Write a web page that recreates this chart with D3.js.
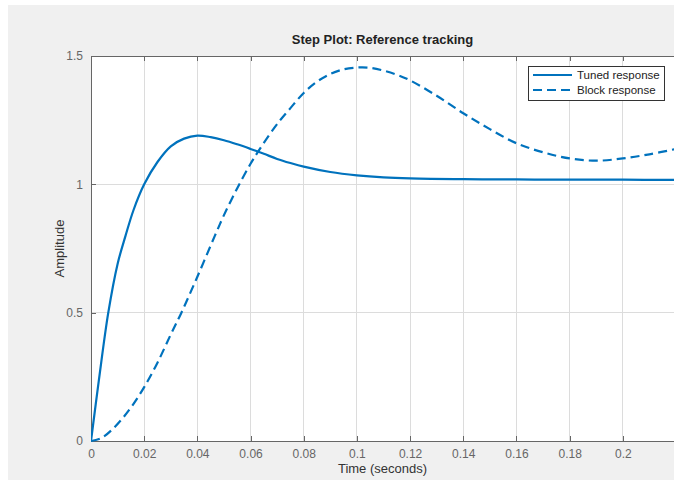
<!DOCTYPE html>
<html lang="en">
<head>
<meta charset="UTF-8">
<script src="https://cdn.jsdelivr.net/npm/d3@7"></script>
<style>
  body { margin: 0; background: #fff; }
  svg { display: block; font-family: "Liberation Sans", Arial, sans-serif; }
</style>
</head>
<body>
<script>
const w = 674;
const h = 481;

// tuned response (solid)
const tunedT = [0, 0.003, 0.0065, 0.01, 0.013, 0.016, 0.02, 0.025, 0.03, 0.035, 0.04, 0.045, 0.05, 0.055, 0.06, 0.065, 0.07, 0.075, 0.08, 0.09, 0.1, 0.11, 0.12, 0.14, 0.16, 0.18, 0.2, 0.22];
const tunedY = [0, 0.24, 0.5, 0.69, 0.8, 0.9, 1.0, 1.087, 1.148, 1.178, 1.19, 1.184, 1.172, 1.156, 1.138, 1.119, 1.099, 1.083, 1.069, 1.048, 1.035, 1.027, 1.023, 1.02, 1.019, 1.018, 1.018, 1.017];

// block response (dashed)
const blockT = [0, 0.004, 0.008, 0.012, 0.016, 0.02, 0.025, 0.03, 0.034, 0.04, 0.0466, 0.05, 0.055, 0.06, 0.063, 0.067, 0.071, 0.075, 0.08, 0.085, 0.09, 0.095, 0.1, 0.105, 0.11, 0.115, 0.12, 0.13, 0.14, 0.15, 0.16, 0.17, 0.18, 0.19, 0.2, 0.21, 0.22];
const blockY = [0, 0.012, 0.045, 0.09, 0.145, 0.21, 0.305, 0.415, 0.5, 0.64, 0.8, 0.88, 0.985, 1.08, 1.13, 1.192, 1.248, 1.297, 1.356, 1.4, 1.43, 1.448, 1.455, 1.454, 1.443, 1.427, 1.405, 1.345, 1.277, 1.215, 1.16, 1.125, 1.101, 1.092, 1.101, 1.117, 1.138];

const xTicks = [0, 0.02, 0.04, 0.06, 0.08, 0.1, 0.12, 0.14, 0.16, 0.18, 0.2];
const yTicks = [0, 0.5, 1, 1.5];
const seriesNames = ["Tuned response", "Block response"];

const pLeft = 91, pTop = 56, pBottom = 441, pRight = 676;
const blue = "#0072bd";

const svg = d3.select("body").append("svg").attr("width", w).attr("height", h);

// figure background
svg.append("rect").attr("x", 8).attr("y", 5).attr("width", w - 8).attr("height", h - 6).attr("fill", "#f0f0f0");

const x = d3.scaleLinear().domain([0, 0.22]).range([pLeft, pRight]);
const y = d3.scaleLinear().domain([0, 1.5]).range([pBottom, pTop]);

svg.append("rect").attr("x", pLeft).attr("y", pTop).attr("width", pRight - pLeft).attr("height", pBottom - pTop).attr("fill", "#fff");

// grid
svg.append("g").selectAll("line").data(xTicks.slice(1)).enter().append("line")
  .attr("x1", d => x(d)).attr("x2", d => x(d)).attr("y1", pTop).attr("y2", pBottom)
  .attr("stroke", "#dcdcdc").attr("stroke-width", 1).attr("shape-rendering", "crispEdges");
svg.append("g").selectAll("line").data(yTicks.slice(1, -1)).enter().append("line")
  .attr("x1", pLeft).attr("x2", pRight).attr("y1", d => y(d)).attr("y2", d => y(d))
  .attr("stroke", "#dcdcdc").attr("stroke-width", 1).attr("shape-rendering", "crispEdges");

// axes
const fmt = d => d === 0 ? "0" : String(d);
const xAxis = svg.append("g").attr("transform", `translate(0,${pBottom})`)
  .call(d3.axisBottom(x).tickValues(xTicks).tickFormat(fmt).tickSizeInner(-5).tickSizeOuter(0).tickPadding(8));
const xTop = svg.append("g").attr("transform", `translate(0,${pTop})`)
  .call(d3.axisTop(x).tickValues(xTicks).tickFormat("").tickSizeInner(-5).tickSizeOuter(0));
const yAxis = svg.append("g").attr("transform", `translate(${pLeft},0)`)
  .call(d3.axisLeft(y).tickValues(yTicks).tickFormat(fmt).tickSizeInner(-5).tickSizeOuter(0).tickPadding(8));

[xAxis, xTop, yAxis].forEach(g => {
  g.select(".domain").attr("stroke", "#666").attr("stroke-width", 1).attr("shape-rendering", "crispEdges");
  g.selectAll(".tick line").attr("stroke", "#666").attr("shape-rendering", "crispEdges");
  g.selectAll("text").attr("fill", "#666").style("font-size", "12px").style("font-family", "Liberation Sans, Arial, sans-serif");
});

// lines
const line = d3.line().x(d => x(d[0])).y(d => y(d[1])).curve(d3.curveCatmullRom.alpha(0.5));
svg.append("clipPath").attr("id", "clip").append("rect")
  .attr("x", pLeft).attr("y", pTop - 2).attr("width", pRight - pLeft).attr("height", pBottom - pTop + 4);

svg.append("path").attr("clip-path", "url(#clip)")
  .datum(tunedT.map((t, i) => [t, tunedY[i]]))
  .attr("d", line).attr("fill", "none").attr("stroke", blue).attr("stroke-width", 2.2);

svg.append("path").attr("clip-path", "url(#clip)")
  .datum(blockT.map((t, i) => [t, blockY[i]]))
  .attr("d", line).attr("fill", "none").attr("stroke", blue).attr("stroke-width", 2.2)
  .attr("stroke-dasharray", "9,5");

// title and labels
svg.append("text").attr("x", (pLeft + 674) / 2).attr("y", 44).attr("text-anchor", "middle")
  .style("font-size", "13px").style("font-weight", "bold").attr("fill", "#222")
  .text("Step Plot: Reference tracking");

svg.append("text").attr("x", (pLeft + 674) / 2).attr("y", 473).attr("text-anchor", "middle")
  .style("font-size", "13px").attr("fill", "#333").text("Time (seconds)");

svg.append("text").attr("transform", `translate(64,${(pTop + pBottom) / 2}) rotate(-90)`)
  .attr("text-anchor", "middle").style("font-size", "13px").attr("fill", "#333").text("Amplitude");

// legend
const lg = svg.append("g").attr("transform", "translate(528,66)");
lg.append("rect").attr("width", 136).attr("height", 34).attr("fill", "#fff")
  .attr("stroke", "#333").attr("stroke-width", 1).attr("shape-rendering", "crispEdges");
seriesNames.forEach((name, i) => {
  const ly = 9 + i * 15;
  lg.append("line").attr("x1", 5).attr("x2", 44).attr("y1", ly).attr("y2", ly)
    .attr("stroke", blue).attr("stroke-width", 2.2)
    .attr("stroke-dasharray", i === 1 ? "9,5" : null);
  lg.append("text").attr("x", 49).attr("y", ly + 4).style("font-size", "11.5px").attr("fill", "#222").text(name);
});
</script>
</body>
</html>
